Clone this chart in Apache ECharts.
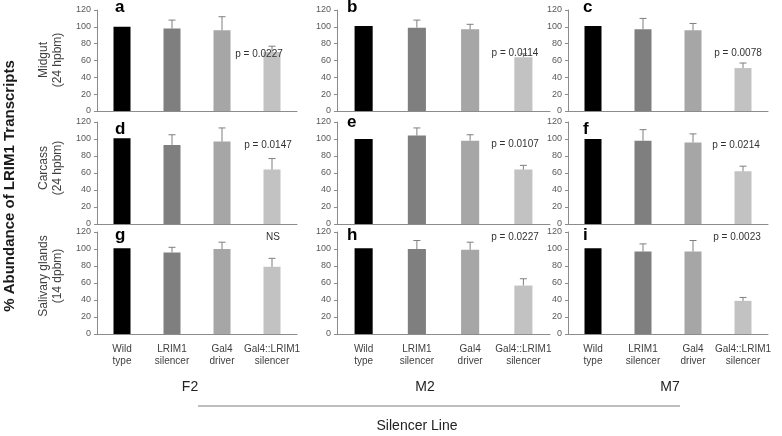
<!DOCTYPE html>
<html>
<head>
<meta charset="utf-8">
<script src="https://cdn.jsdelivr.net/npm/echarts@6/dist/echarts.min.js"></script>
<style>html,body{margin:0;padding:0;background:#fff;}#c{width:782px;height:436px;}</style>
</head>
<body>
<div id="c"></div>
<script>
// ---- data ----
const categories = ['Wild\ntype', 'LRIM1\nsilencer', 'Gal4\ndriver', 'Gal4::LRIM1\nsilencer'];
const yTicks = [0, 20, 40, 60, 80, 100, 120];
const panelLetters = ['a', 'b', 'c', 'd', 'e', 'f', 'g', 'h', 'i'];
const lines = ['F2', 'M2', 'M7'];
const tissues = ['Midgut\n(24 hpbm)', 'Carcass\n(24 hpbm)', 'Salivary glands\n(14 dpbm)'];
const pValues = ['p = 0.0227', 'p = 0.0114', 'p = 0.0078', 'p = 0.0147', 'p = 0.0107', 'p = 0.0214', 'NS', 'p = 0.0227', 'p = 0.0023'];

const meanA = [100, 98, 96, 70];
const meanB = [101, 99, 97, 64];
const meanC = [101, 97, 96, 51];
const meanD = [101, 93, 97, 64];
const meanE = [100, 104, 98, 64];
const meanF = [100, 98, 96, 62];
const meanG = [101, 96, 100, 79];
const meanH = [101, 100, 99, 57];
const meanI = [101, 97, 97, 39];

const errA = [0, 10, 16, 7];
const errB = [0, 9, 6, 4];
const errC = [0, 13, 8, 6];
const errD = [0, 12, 16, 13];
const errE = [0, 9, 7, 5];
const errF = [0, 13, 10, 6];
const errG = [0, 6, 8, 10];
const errH = [0, 10, 9, 8];
const errI = [0, 9, 13, 4];

const means = [meanA, meanB, meanC, meanD, meanE, meanF, meanG, meanH, meanI];
const errs = [errA, errB, errC, errD, errE, errF, errG, errH, errI];

// ---- layout / style ----
const barColors = ['#000000', '#7f7f7f', '#a6a6a6', '#c2c2c2'];
const colLeft = [97, 337, 568];
const colWidth = [200, 213, 200];
const rowTop = [10, 122, 232];
const rowHeight = [101, 102, 102];
const FONT = 'Liberation Sans, Arial, sans-serif';

const grids = [], xAxes = [], yAxes = [], series = [], graphics = [];
for (let k = 0; k < 9; k++) {
  const r = Math.floor(k / 3), c = k % 3;
  grids.push({left: colLeft[c], top: rowTop[r], width: colWidth[c], height: rowHeight[r]});
  xAxes.push({
    type: 'category', gridIndex: k, data: categories,
    axisLine: {lineStyle: {color: '#8c8c8c', width: 1}},
    axisTick: {show: false},
    axisLabel: {show: r === 2, fontSize: 10, color: '#404040', lineHeight: 12, margin: 9, fontFamily: FONT, interval: 0}
  });
  yAxes.push({
    type: 'value', gridIndex: k, min: 0, max: 120, interval: 20,
    axisLine: {show: true, lineStyle: {color: '#8c8c8c', width: 1}},
    axisTick: {show: true, length: 3, lineStyle: {color: '#8c8c8c'}},
    axisLabel: {fontSize: 9, color: '#595959', margin: 6, fontFamily: FONT},
    splitLine: {show: false}
  });
  series.push({
    type: 'bar', xAxisIndex: k, yAxisIndex: k, barWidth: '34%',
    data: means[k].map((v, i) => ({value: v, itemStyle: {color: barColors[i]}})),
    silent: true, animation: false
  });
  series.push({
    type: 'custom', xAxisIndex: k, yAxisIndex: k, animation: false, silent: true,
    data: means[k].map((v, i) => [i, v, v + errs[k][i]]).filter(d => d[2] > d[1]),
    renderItem: function (params, api) {
      const b = api.coord([api.value(0), api.value(1)]);
      const t = api.coord([api.value(0), api.value(2)]);
      const st = {stroke: '#7f7f7f', lineWidth: 1};
      return {type: 'group', children: [
        {type: 'line', shape: {x1: b[0], y1: b[1], x2: t[0], y2: t[1]}, style: st},
        {type: 'line', shape: {x1: t[0] - 3.5, y1: t[1], x2: t[0] + 3.5, y2: t[1]}, style: st}
      ]};
    },
    z: 3
  });
}

// panel letters
const letterPos = [[115, 8], [347, 8], [583, 8], [115, 130], [347, 123], [583, 130], [115, 236], [347, 236], [583, 236]];
panelLetters.forEach((t, k) => graphics.push({type: 'text', left: letterPos[k][0], top: letterPos[k][1] - 9,
  style: {text: t, font: 'bold 17px ' + FONT, fill: '#000'}}));

// p-values
const pPos = [[259, 54], [515, 53], [738, 53], [268, 145], [515, 144], [736, 145], [273, 237], [515, 237], [737, 237]];
pValues.forEach((t, k) => graphics.push({type: 'text', x: pPos[k][0], y: pPos[k][1],
  style: {text: t, font: '10px ' + FONT, fill: '#333', textAlign: 'center', textVerticalAlign: 'middle'}, z: 10}));

// tissue labels (rotated)
const tissueY = [60, 168, 276];
tissues.forEach((t, r) => graphics.push({type: 'text', x: 51, y: tissueY[r], rotation: Math.PI / 2,
  style: {text: t, font: '12px ' + FONT, fill: '#404040', textAlign: 'center', textVerticalAlign: 'middle', lineHeight: 14}}));

// main y title
graphics.push({type: 'text', x: 10, y: 186, rotation: Math.PI / 2,
  style: {text: '% Abundance of LRIM1 Transcripts', font: 'bold 15px ' + FONT, fill: '#1a1a1a', textAlign: 'center', textVerticalAlign: 'middle'}});

// line labels
const lineX = [190, 425, 670];
lines.forEach((t, c) => graphics.push({type: 'text', x: lineX[c], y: 387,
  style: {text: t, font: '14px ' + FONT, fill: '#222', textAlign: 'center', textVerticalAlign: 'middle'}}));
graphics.push({type: 'line', shape: {x1: 198, y1: 406, x2: 680, y2: 406}, style: {stroke: '#7f7f7f', lineWidth: 1}});
graphics.push({type: 'text', x: 417, y: 426,
  style: {text: 'Silencer Line', font: '14px ' + FONT, fill: '#222', textAlign: 'center', textVerticalAlign: 'middle'}});

const chart = echarts.init(document.getElementById('c'), null, {renderer: 'canvas'});
chart.setOption({
  animation: false,
  grid: grids, xAxis: xAxes, yAxis: yAxes, series: series, graphic: graphics
});
</script>
</body>
</html>
